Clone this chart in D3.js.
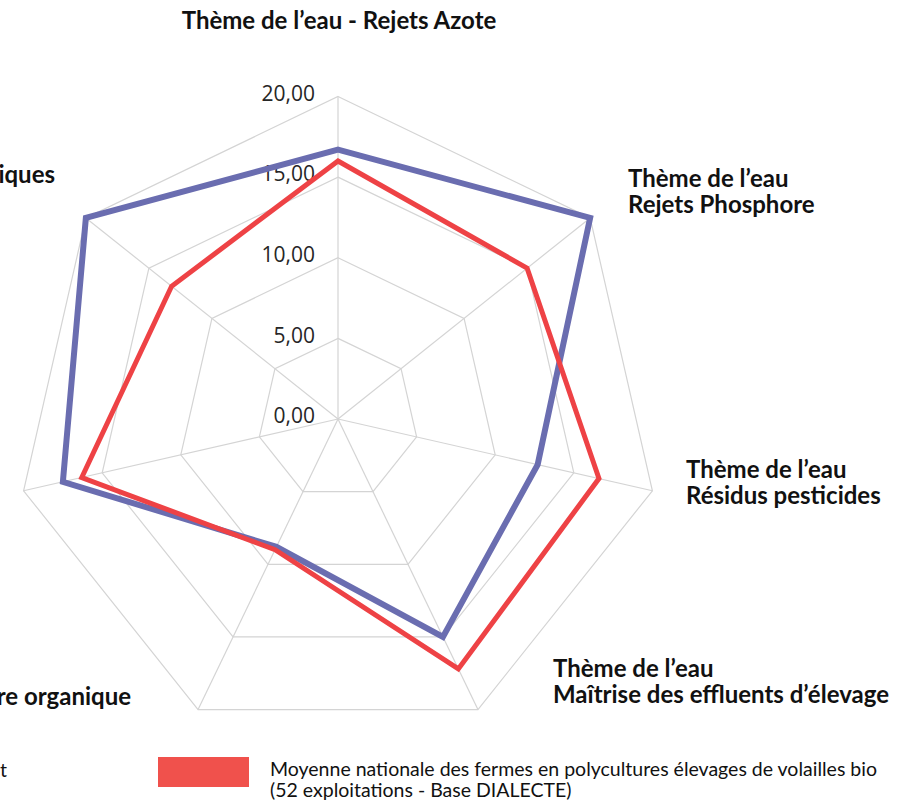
<!DOCTYPE html>
<html>
<head>
<meta charset="utf-8">
<script src="https://cdn.jsdelivr.net/npm/d3@7"></script>
<style>
  body { margin: 0; background: #fff; }
  svg { display: block; }
</style>
</head>
<body>
<div class="chart"></div>
<script>
// axes of the radar, clockwise from the top
var axes = [
  "Thème de l’eau - Rejets Azote",
  "Thème de l’eau|Rejets Phosphore",
  "Thème de l’eau|Résidus pesticides",
  "Thème de l’eau|Maîtrise des effluents d’élevage",
  "re organique",
  "",
  "iques"
];
var farm = [16.7, 20.0, 12.7, 15.0, 8.8, 17.5, 20.0];
var national = [16.0, 15.0, 16.6, 17.2, 9.0, 16.3, 13.2];
var ticks = [0, 5, 10, 15, 20];
var legendLabels = ["t", "Moyenne nationale des fermes en polycultures élevages de volailles bio|(52 exploitations - Base DIALECTE)"];

var width = 906, height = 810;
var cx = 338, cy = 419;

var svg = d3.select(".chart").append("svg")
  .attr("width", width)
  .attr("height", height);

var r = d3.scaleLinear().domain([0, 20]).range([0, 322.5]);
var angle = d3.scaleLinear().domain([0, axes.length]).range([0, 2 * Math.PI]);

var g = svg.append("g").attr("transform", "translate(" + cx + "," + cy + ")");

function pt(i, v) {
  var a = angle(i);
  return [r(v) * Math.sin(a), -r(v) * Math.cos(a)];
}

// grid rings
var ring = d3.lineRadial()
  .angle(function (d, i) { return angle(i); })
  .radius(function (d) { return r(d); })
  .curve(d3.curveLinearClosed);

g.selectAll(".ring")
  .data(ticks.filter(function (t) { return t > 0; }))
  .enter().append("path")
  .attr("d", function (t) { return ring(axes.map(function () { return t; })); })
  .attr("fill", "none")
  .attr("stroke", "#d4d4d4")
  .attr("stroke-width", 1.2);

// spokes
g.selectAll(".spoke")
  .data(axes)
  .enter().append("line")
  .attr("x1", 0).attr("y1", 0)
  .attr("x2", function (d, i) { return pt(i, 20)[0]; })
  .attr("y2", function (d, i) { return pt(i, 20)[1]; })
  .attr("stroke", "#d4d4d4")
  .attr("stroke-width", 1.2);

// tick labels
var fmt = function (v) { return d3.format(".2f")(v).replace(".", ","); };
g.selectAll(".tick")
  .data(ticks)
  .enter().append("text")
  .attr("x", -23)
  .attr("y", function (t) { return -r(t); })
  .attr("dy", "0.2em")
  .attr("text-anchor", "end")
  .style("font-family", "'Open Sans', sans-serif")
  .style("font-size", "21px")
  .style("fill", "#262626")
  .text(fmt);

// series
var line = d3.lineRadial()
  .angle(function (d, i) { return angle(i); })
  .radius(function (d) { return r(d); })
  .curve(d3.curveLinearClosed);

g.append("path")
  .attr("d", line(farm))
  .attr("fill", "none")
  .attr("stroke", "#6a6db0")
  .attr("stroke-width", 6)
  .attr("stroke-linejoin", "miter");

g.append("path")
  .attr("d", line(national))
  .attr("fill", "none")
  .attr("stroke", "#ee4245")
  .attr("stroke-width", 5)
  .attr("stroke-linejoin", "miter");

// axis labels
var labelPos = [
  { x: 339, y: 29, anchor: "middle" },
  { x: 628, y: 187, anchor: "start" },
  { x: 686, y: 478, anchor: "start" },
  { x: 553, y: 677, anchor: "start" },
  { x: 131, y: 705, anchor: "end" },
  { x: 0, y: 490, anchor: "end" },
  { x: 55, y: 183, anchor: "end" }
];

axes.forEach(function (name, i) {
  if (!name) return;
  var p = labelPos[i];
  var t = svg.append("text")
    .attr("x", p.x)
    .attr("y", p.y)
    .attr("text-anchor", p.anchor)
    .style("font-family", "Lato, sans-serif")
    .style("font-weight", "bold")
    .style("font-size", "24px")
    .style("fill", "#111");
  name.split("|").forEach(function (s, k) {
    t.append("tspan").attr("x", p.x).attr("dy", k ? 26 : 0).text(s);
  });
});

// legend
svg.append("text")
  .attr("x", 0).attr("y", 777)
  .style("font-family", "Lato, sans-serif")
  .style("font-size", "19.5px")
  .style("fill", "#111")
  .text(legendLabels[0]);

svg.append("rect")
  .attr("x", 158).attr("y", 757)
  .attr("width", 91).attr("height", 30)
  .attr("fill", "#f0514c");

var lt = svg.append("text")
  .attr("x", 270).attr("y", 776)
  .style("font-family", "Lato, sans-serif")
  .style("font-size", "19.5px")
  .style("fill", "#111");
legendLabels[1].split("|").forEach(function (s, k) {
  lt.append("tspan").attr("x", 270).attr("dy", k ? 21 : 0).text(s);
});
</script>
</body>
</html>
